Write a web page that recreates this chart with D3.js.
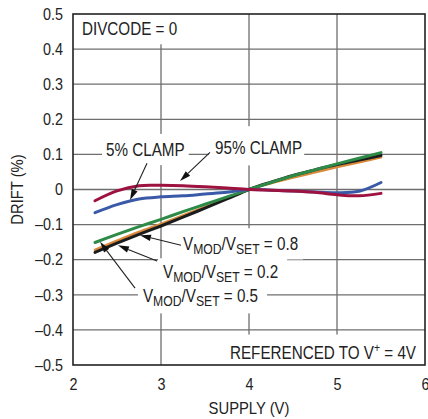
<!DOCTYPE html>
<html><head><meta charset="utf-8">
<script src="https://cdn.jsdelivr.net/npm/d3@7"></script>
<style>
html,body{margin:0;padding:0;background:#fff;}
svg text{font-family:"Liberation Sans",Arial,Helvetica,sans-serif;fill:#222;}
</style></head>
<body><svg id="c" width="428" height="419"></svg>
<script>
// ---- data ----
const supply = [2.25, 2.5, 2.75, 3.0, 3.25, 3.5, 3.75, 4.0, 4.25, 4.5, 4.75, 5.0, 5.25, 5.5];
const ratio08 = [-0.179, -0.153, -0.128, -0.104, -0.079, -0.053, -0.027, 0, 0.021, 0.040, 0.056, 0.071, 0.084, 0.097];
const ratio02 = [-0.172, -0.146, -0.121, -0.098, -0.074, -0.050, -0.025, 0, 0.018, 0.034, 0.049, 0.064, 0.078, 0.092];
const ratio05 = [-0.151, -0.128, -0.106, -0.085, -0.063, -0.042, -0.021, 0, 0.020, 0.039, 0.056, 0.073, 0.089, 0.105];
const clamp5  = [-0.066, -0.043, -0.027, -0.021, -0.018, -0.013, -0.008, 0, -0.002, -0.004, -0.007, -0.009, -0.005, 0.020];
const clamp95 = [-0.032, -0.004, 0.011, 0.012, 0.011, 0.008, 0.004, 0, -0.002, -0.004, -0.008, -0.015, -0.018, -0.011];
const seriesNames = ["VMOD/VSET = 0.2", "VMOD/VSET = 0.8", "VMOD/VSET = 0.5", "5% CLAMP", "95% CLAMP"];
const seriesColors = ["#d98a3a", "#1c1c1c", "#2e8b47", "#3a5aa8", "#9e1240"];
const xTicks = [2, 3, 4, 5, 6];
const xTickLabels = ["2", "3", "4", "5", "6"];
const yTicks = [0.5, 0.4, 0.3, 0.2, 0.1, 0, -0.1, -0.2, -0.3, -0.4, -0.5];
const yTickLabels = ["0.5", "0.4", "0.3", "0.2", "0.1", "0", "\u20130.1", "\u20130.2", "\u20130.3", "\u20130.4", "\u20130.5"];
const xTitle = "SUPPLY (V)";
const yTitle = "DRIFT (%)";
// annotation arrows in data units: [x0, y0, x1(tip), y1(tip)]
const arrows = [
  [2.841, 0.075, 2.648, -0.030],
  [3.557, 0.106, 3.216, 0.024],
  [3.227, -0.159, 2.761, -0.130],
  [2.955, -0.204, 2.511, -0.159],
  [2.705, -0.281, 2.307, -0.149]
];

// ---- layout ----
const W = 428, H = 419;
const m = {l: 73, t: 14, r: 3, b: 54};
const svg = d3.select("#c");
const x = d3.scaleLinear().domain([2, 6]).range([m.l, W - m.r]);
const y = d3.scaleLinear().domain([-0.5, 0.5]).range([H - m.b, m.t]);
const SX = 0.87;

// gridlines
const grid = svg.append("g");
grid.selectAll("line.v").data(xTicks.slice(1, -1)).join("line")
  .attr("x1", d => x(d)).attr("x2", d => x(d)).attr("y1", y(0.5)).attr("y2", y(-0.5))
  .attr("stroke", "#6e6e6e").attr("stroke-width", 1.3);
grid.selectAll("line.h").data(yTicks.slice(1, -1)).join("line")
  .attr("x1", x(2)).attr("x2", x(6)).attr("y1", d => y(d)).attr("y2", d => y(d))
  .attr("stroke", "#6e6e6e").attr("stroke-width", 1.3);

// tick labels via axes
const ax = svg.append("g").attr("transform", `translate(0,${y(-0.5)})`)
  .call(d3.axisBottom(x).tickValues(xTicks).tickFormat((d, i) => xTickLabels[i]).tickSize(0).tickPadding(13));
const ay = svg.append("g").attr("transform", `translate(${x(2)},0)`)
  .call(d3.axisLeft(y).tickValues(yTicks).tickFormat((d, i) => yTickLabels[i]).tickSize(0).tickPadding(10));
[ax, ay].forEach(a => { a.select(".domain").remove(); a.selectAll("text").attr("font-size", 16.5).attr("fill", "#222")
  .attr("font-family", '"Liberation Sans",Arial,sans-serif'); });
// horizontal condensing of tick labels
ay.selectAll(".tick text").attr("transform", `scale(${SX},1)`).attr("x", -10 / SX);
ax.selectAll(".tick text").attr("transform", `scale(${SX},1)`);

// labels with white boxes
const labelLayer = svg.append("g");
function label(px, py, anchor, build, pad) {
  const g = labelLayer.append("g").attr("transform", `translate(${px},${py})`);
  const rect = g.append("rect").attr("fill", "#fff");
  const t = g.append("text").attr("font-size", 17.5).attr("text-anchor", anchor)
    .attr("transform", `scale(${SX},1)`);
  build(t);
  const bb = t.node().getBBox();
  rect.attr("x", bb.x * SX - pad[3]).attr("y", bb.y - pad[0])
    .attr("width", bb.width * SX + pad[1] + pad[3]).attr("height", bb.height + pad[0] + pad[2]);
  return g;
}
function vlabel(t, val) {
  t.append("tspan").text("V");
  t.append("tspan").text("MOD").attr("font-size", 14).attr("dy", 4);
  t.append("tspan").text("/V").attr("dy", -4);
  t.append("tspan").text("SET").attr("font-size", 14).attr("dy", 4);
  t.append("tspan").text(" = " + val).attr("dy", -4);
}
label(x(2.102), y(0.440), "start", t => t.text("DIVCODE = 0"), [8, 5, 6, 9]);
label(x(2.375), y(0.0957), "start", t => t.text("5% CLAMP"), [6, 4, 6, 4]);
label(x(3.614), y(0.1006), "start", t => t.text("95% CLAMP"), [12, 2, 8, 6]);
label(x(3.25), y(-0.173), "start", t => vlabel(t, "0.8"), [6, 5, 2, 5]);
label(x(3.023), y(-0.253), "start", t => vlabel(t, "0.2"), [4, 9, 2, 5]);
label(x(2.795), y(-0.321), "start", t => vlabel(t, "0.5"), [4, 9, 4, 5]);
label(x(5.898), y(-0.4835), "end", t => { t.append("tspan").text("REFERENCED TO V");
  t.append("tspan").text("+").attr("font-size", 12).attr("dy", -7);
  t.append("tspan").text(" = 4V").attr("dy", 7); }, [7, 9, 5, 7]);

// frame
svg.append("rect").attr("x", x(2)).attr("y", y(0.5)).attr("width", x(6) - x(2)).attr("height", y(-0.5) - y(0.5))
  .attr("fill", "none").attr("stroke", "#222").attr("stroke-width", 1.6);

// curves
const allSeries = [ratio02, ratio08, ratio05, clamp5, clamp95];
const line = d3.line().x((d, i) => x(supply[i])).y(d => y(d)).curve(d3.curveCatmullRom.alpha(0.5));
svg.append("g").selectAll("path").data(allSeries).join("path")
  .attr("d", d => line(d)).attr("fill", "none")
  .attr("stroke", (d, i) => seriesColors[i])
  .attr("stroke-width", (d, i) => i === 0 ? 2.6 : 3)
  .attr("stroke-linecap", "round")
  .append("title").text((d, i) => seriesNames[i]);

// arrows
const ag = svg.append("g");
arrows.forEach(a => {
  const x0 = x(a[0]), y0 = y(a[1]), x1 = x(a[2]), y1 = y(a[3]);
  const ang = Math.atan2(y1 - y0, x1 - x0);
  const L = 11, Wd = 3.2;
  const bx = x1 - L * Math.cos(ang), by = y1 - L * Math.sin(ang);
  ag.append("line").attr("x1", x0).attr("y1", y0).attr("x2", bx).attr("y2", by)
    .attr("stroke", "#222").attr("stroke-width", 1.1);
  const px = -Math.sin(ang) * Wd, py = Math.cos(ang) * Wd;
  ag.append("path").attr("d", `M${x1},${y1}L${bx + px},${by + py}L${bx - px},${by - py}Z`).attr("fill", "#111");
});

// axis titles
svg.append("text").attr("font-size", 17).attr("text-anchor", "middle")
  .attr("transform", `translate(${(x(2) + x(6)) / 2},${H - 5}) scale(${SX},1)`).text(xTitle);
svg.append("text").attr("font-size", 17).attr("text-anchor", "middle")
  .attr("transform", `translate(23,${(y(0.5) + y(-0.5)) / 2}) rotate(-90) scale(${SX},1)`).text(yTitle);
</script></body></html>
